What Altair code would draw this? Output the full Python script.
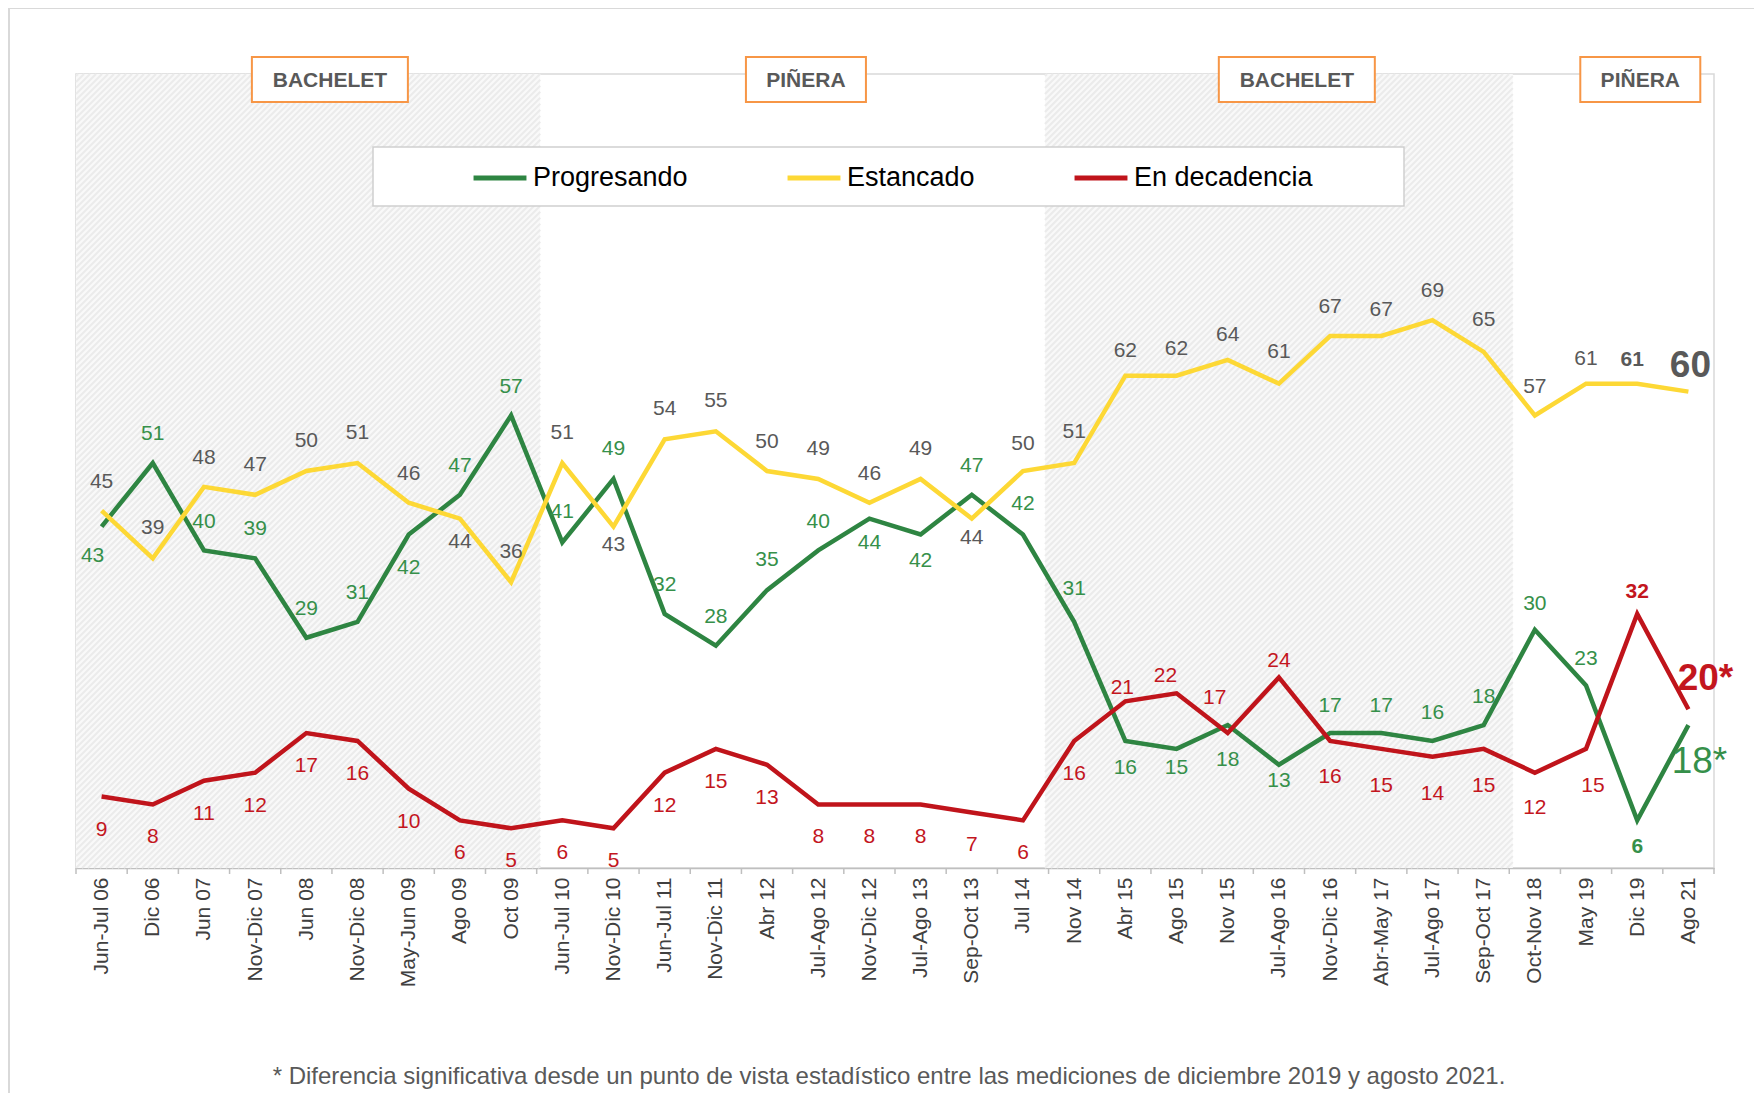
import json
import altair as alt
import pandas as pd

# ---------------- data ----------------
categories = ["Jun-Jul 06", "Dic 06", "Jun 07", "Nov-Dic 07", "Jun 08", "Nov-Dic 08",
              "May-Jun 09", "Ago 09", "Oct 09", "Jun-Jul 10", "Nov-Dic 10", "Jun-Jul 11",
              "Nov-Dic 11", "Abr 12", "Jul-Ago 12", "Nov-Dic 12", "Jul-Ago 13", "Sep-Oct 13",
              "Jul 14", "Nov 14", "Abr 15", "Ago 15", "Nov 15", "Jul-Ago 16", "Nov-Dic 16",
              "Abr-May 17", "Jul-Ago 17", "Sep-Oct 17", "Oct-Nov 18", "May 19", "Dic 19", "Ago 21"]
progresando = [43, 51, 40, 39, 29, 31, 42, 47, 57, 41, 49, 32, 28, 35, 40, 44, 42, 47, 42, 31,
               16, 15, 18, 13, 17, 17, 16, 18, 30, 23, 6, 18]
estancado = [45, 39, 48, 47, 50, 51, 46, 44, 36, 51, 43, 54, 55, 50, 49, 46, 49, 44, 50, 51,
             62, 62, 64, 61, 67, 67, 69, 65, 57, 61, 61, 60]
decadencia = [9, 8, 11, 12, 17, 16, 10, 6, 5, 6, 5, 12, 15, 13, 8, 8, 8, 7, 6, 16,
              21, 22, 17, 24, 16, 15, 14, 15, 12, 15, 32, 20]
series_names = ["Progresando", "Estancado", "En decadencia"]
starred_last = {"Progresando": True, "Estancado": False, "En decadencia": True}

period_names = ["BACHELET", "PIÑERA", "BACHELET", "PIÑERA"]
period_first = [0, 9, 19, 28]
period_last = [8, 18, 27, 31]
shaded_period = [True, False, True, False]

footnote = ("* Diferencia significativa desde un punto de vista estadístico entre las "
            "mediciones de diciembre 2019 y agosto 2021.")

# ---------------- styling / layout ----------------
FONT = "Liberation Sans"
W, H = 1638, 794
N = len(categories)
PX_X = W / N
PX_Y = H / 100.0

line_colors = ["#2e8542", "#fdd835", "#c0141b"]
text_colors = {"Progresando": "#36904a", "Estancado": "#595959", "En decadencia": "#c3161e"}

# label placement in pixels (negative = above the point)
label_dy = {
    "Progresando": [29, -29, -28, -29, -29, -29, 33, -29, -28, -30, -30, -29, -29, -30, -28, 24,
                    26, -29, -31, -33, 27, 19, 35, 16, -27, -27, -28, -28, -26, -26, 27, 37],
    "Estancado": [-29, -30, -29, -30, -30, -30, -29, 23, -30, -30, 18, -30, -30, -29, -30, -29,
                  -30, 19, -27, -31, -25, -27, -25, -32, -29, -26, -29, -32, -28, -25, -24, -26],
    "En decadencia": [33] * 20 + [-13, -17, -35, -16, 36, 37, 37, 37, 35, 37, -22, -30],
}
label_dx = {
    "Progresando": {0: -9, 31: 11},
    "Estancado": {30: -5, 31: 2},
    "En decadencia": {20: -3, 21: -11, 22: -13, 29: 7, 31: 17},
}
label_style = {
    "Progresando": {30: "bold", 31: "big"},
    "Estancado": {30: "bold", 31: "bigbold"},
    "En decadencia": {30: "bold", 31: "bigbold"},
}
period_label_at = [4.46, 13.76, 23.35, 30.06]
period_box_px = {"BACHELET": 156, "PIÑERA": 120}
SHADE_PAD = 0.07      # shaded bands extend slightly past the category edges
HATCH_STEP = 6        # px between hatch stripes

# ---------------- tables ----------------
values = {"Progresando": progresando, "Estancado": estancado, "En decadencia": decadencia}
line_rows, label_rows = [], []
for s in series_names:
    for i, v in enumerate(values[s]):
        line_rows.append({"series": s, "i": i, "v": v})
        txt = str(v) + ("*" if (starred_last[s] and i == N - 1) else "")
        label_rows.append({
            "series": s, "text": txt,
            "lx": i + label_dx[s].get(i, 0) / PX_X,
            "ly": v - label_dy[s][i] / PX_Y,
            "style": label_style[s].get(i, "normal"),
            "tcolor": text_colors[s],
        })
lines_df = pd.DataFrame(line_rows)
labels_df = pd.DataFrame(label_rows)

shade_rows = [{"s": f - 0.5 - (SHADE_PAD if f > 0 else 0), "e": l + 0.5 + SHADE_PAD}
              for f, l, sh in zip(period_first, period_last, shaded_period) if sh]
shade_df = pd.DataFrame(shade_rows)

# diagonal hatch stripes "/" clipped to each shaded band (computed in pixel space)
hatch_rows = []
for r in shade_rows:
    x0p = (r["s"] + 0.5) * PX_X
    x1p = (r["e"] + 0.5) * PX_X
    c = x0p + 2
    while c < x1p + H:
        xa = max(x0p, c - H)
        xb = min(x1p, c)
        if xb > xa:
            hatch_rows.append({"hx": xa / PX_X - 0.5, "hx2": xb / PX_X - 0.5,
                               "hy": (H - (c - xa)) / PX_Y, "hy2": (H - (c - xb)) / PX_Y})
        c += HATCH_STEP
hatch_df = pd.DataFrame(hatch_rows)

box_df = pd.DataFrame([{"name": nm, "c": c,
                        "x0": c - period_box_px[nm] / 2 / PX_X,
                        "x1": c + period_box_px[nm] / 2 / PX_X}
                       for nm, c in zip(period_names, period_label_at)])
ticks_df = pd.DataFrame({"t": [i - 0.5 for i in range(N + 1)]})
one_df = pd.DataFrame({"note": [footnote]})

# ---------------- encodings ----------------
xscale = alt.Scale(domain=[-0.5, N - 0.5], nice=False, zero=False)
xaxis = alt.Axis(values=list(range(N)),
                 labelExpr=json.dumps(categories) + "[datum.value]",
                 labelAngle=-90, labelFontSize=21, labelFont=FONT, labelColor="#404040",
                 labelPadding=9, ticks=False, grid=False, domainColor="#bfbfbf",
                 domainWidth=1.5, title=None, labelOverlap=False, labelFlush=False,
                 labelBound=False)
yscale = alt.Scale(domain=[0, 100], nice=False, zero=True)


def X(field):
    return alt.X(field, type="quantitative", scale=xscale, axis=xaxis)


def Y(field):
    return alt.Y(field, type="quantitative", scale=yscale, axis=None)


card = alt.Chart(one_df).mark_rect(fillOpacity=0, stroke="#d9d9d9", strokeWidth=2).encode(
    x=alt.value(-67), x2=alt.value(W + 300), y=alt.value(-66), y2=alt.value(H + 400))

shade = alt.Chart(shade_df).mark_rect(fill="#f9f9f9").encode(
    x=X("s"), x2="e", y=alt.value(0), y2=alt.value(H))

hatch = alt.Chart(hatch_df).mark_rule(color="#ebebeb", strokeWidth=2).encode(
    x=X("hx"), x2="hx2", y=Y("hy"), y2="hy2")

legend_box = alt.Chart(one_df).mark_rect(fill="white", stroke="#cfcfcf", strokeWidth=1.5).encode(
    x=alt.value(297), x2=alt.value(1328), y=alt.value(73), y2=alt.value(132))

boxes = alt.Chart(box_df).mark_rect(fill="white", stroke="#f79646", strokeWidth=2).encode(
    x=X("x0"), x2="x1", y=alt.value(-17), y2=alt.value(28))
box_text = alt.Chart(box_df).mark_text(font=FONT, fontSize=21, fontWeight="bold",
                                       color="#595959", baseline="middle").encode(
    x=X("c"), y=alt.value(7), text="name:N")

color_enc = alt.Color("series:N", scale=alt.Scale(domain=series_names, range=line_colors),
                      legend=alt.Legend(orient="none", legendX=395, legendY=75,
                                        direction="horizontal", title=None,
                                        symbolType="stroke", symbolStrokeWidth=5,
                                        symbolSize=2800, labelFontSize=27, labelFont=FONT,
                                        labelColor="#000000", columnPadding=89,
                                        labelOffset=4, padding=0, labelLimit=400))

line_layers = [
    alt.Chart(lines_df).transform_filter(alt.datum.series == s)
    .mark_line(strokeWidth=4.5).encode(x=X("i"), y=Y("v"), color=color_enc)
    for s in series_names
]


def label_layer(style, size, weight):
    return alt.Chart(labels_df).transform_filter(alt.datum.style == style).mark_text(
        font=FONT, fontSize=size, fontWeight=weight, baseline="middle", align="center"
    ).encode(x=X("lx"), y=Y("ly"), text="text:N", color=alt.Color("tcolor:N", scale=None))


labels = [label_layer("normal", 21, "normal"), label_layer("bold", 21, "bold"),
          label_layer("big", 37, "normal"), label_layer("bigbold", 37, "bold")]

ticks = alt.Chart(ticks_df).mark_rule(color="#bfbfbf", strokeWidth=1.5).encode(
    x=X("t"), y=alt.value(H), y2=alt.value(H + 6))

note = alt.Chart(one_df).mark_text(font=FONT, fontSize=24, color="#595959",
                                   baseline="middle", align="center").encode(
    x=alt.value(813), y=alt.value(1003), text="note:N")

chart = alt.layer(card, shade, hatch, legend_box, boxes, box_text, *line_layers, *labels,
                  ticks, note).properties(
    width=W, height=H,
    padding={"left": 68, "top": 66, "right": 40, "bottom": 225},
    autosize=alt.AutoSizeParams(type="none"),
    background="white",
).configure_view(stroke="#d9d9d9", strokeWidth=1.5)

chart.save("out.html", embed_options={"renderer": "svg", "actions": False})
